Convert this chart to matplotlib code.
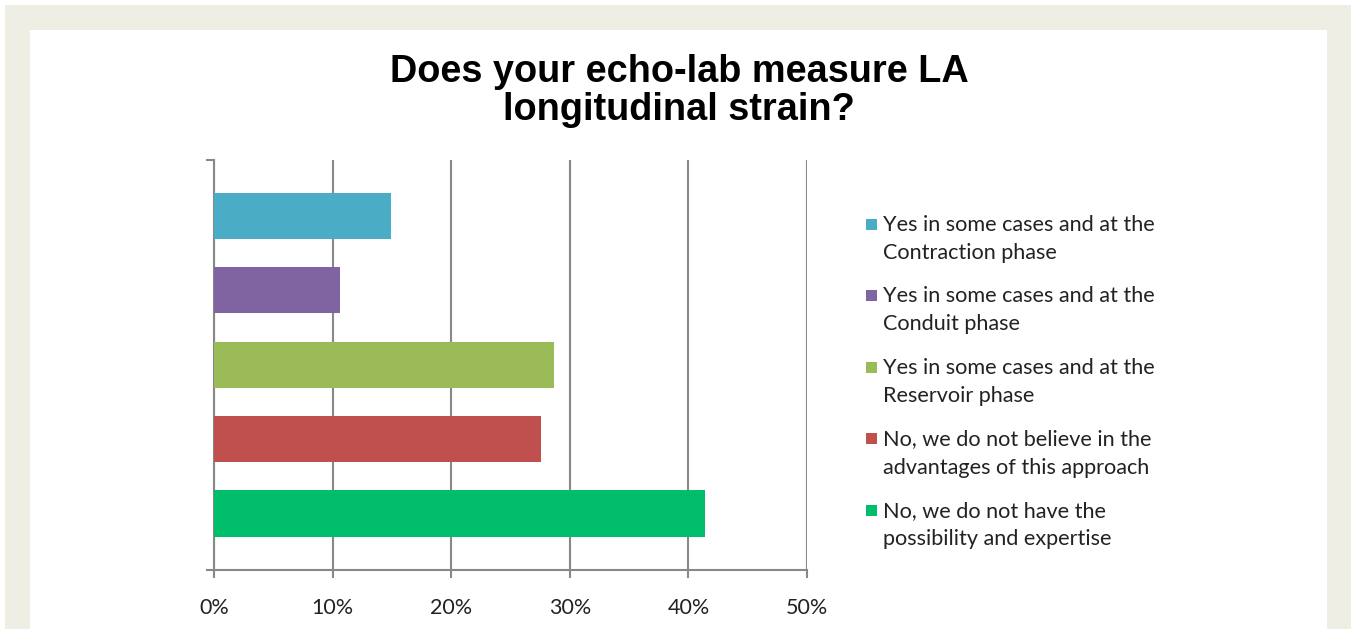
import matplotlib.pyplot as plt
from matplotlib.patches import Rectangle

# data (percent of labs)
labels = [
    "Yes in some cases and at the\nContraction phase",
    "Yes in some cases and at the\nConduit phase",
    "Yes in some cases and at the\nReservoir phase",
    "No, we do not believe in the\nadvantages of this approach",
    "No, we do not have the\npossibility and expertise",
]
values = [14.9, 10.6, 28.7, 27.6, 41.4]
colors = ["#4BACC6", "#8064A2", "#9BBB59", "#C0504D", "#00BD6C"]
xticks = [0, 10, 20, 30, 40, 50]
title = "Does your echo-lab measure LA\nlongitudinal strain?"

W, H = 1351, 629
fig = plt.figure(figsize=(W / 100, H / 100), dpi=100)
fig.patch.set_facecolor("white")

# beige frame and white panel
fig.patches.append(Rectangle((5 / W, 0), 1, 1 - 5 / H, transform=fig.transFigure,
                             facecolor="#EFEEE4", edgecolor="none", zorder=-2))
fig.patches.append(Rectangle((30 / W, 0), (1327 - 30) / W, 1 - 30 / H,
                             transform=fig.transFigure, facecolor="white",
                             edgecolor="none", zorder=-1))

ax = fig.add_axes([214 / W, 1 - 570 / H, (807 - 214) / W, (570 - 160) / H])
ax.set_facecolor("none")

pos = list(range(len(values)))
ax.barh(pos, values, height=0.62, color=colors, zorder=3)
ax.set_ylim(4.76, -0.75)
ax.set_xlim(0, 50)

gray = "#888888"
ax.set_xticks(xticks)
ax.set_xticklabels([f"{t}%" for t in xticks], fontsize=15.5, family="Lato", color="#222222")
ax.xaxis.grid(True, color=gray, linewidth=1.5, zorder=0)
ax.set_yticks([4.76, -0.75])
ax.set_yticklabels([])
ax.tick_params(axis="x", direction="out", length=6, width=1.5, color=gray, pad=14)
ax.tick_params(axis="y", direction="out", length=6, width=1.5, color=gray)
for s in ["top", "right"]:
    ax.spines[s].set_visible(False)
for s in ["left", "bottom"]:
    ax.spines[s].set_color(gray)
    ax.spines[s].set_linewidth(1.5)

fig.text(679 / W, 1 - 91 / H, title, ha="center", va="center", fontsize=27.3,
         fontweight="bold", family="Liberation Sans", linespacing=1.1)

# legend, drawn by hand so the marker sits on the first line
for i, (lab, c) in enumerate(zip(labels, colors)):
    y1 = 224 + i * 71.5
    fig.patches.append(Rectangle((866 / W, 1 - (y1 + 5.5) / H), 11 / W, 11 / H,
                                 transform=fig.transFigure, facecolor=c, edgecolor="none"))
    fig.text(883 / W, 1 - (y1 - 9) / H, lab, ha="left", va="top", fontsize=15.6,
             family="Lato", color="#222222", linespacing=1.5)

fig.savefig("out.png", dpi=100)
